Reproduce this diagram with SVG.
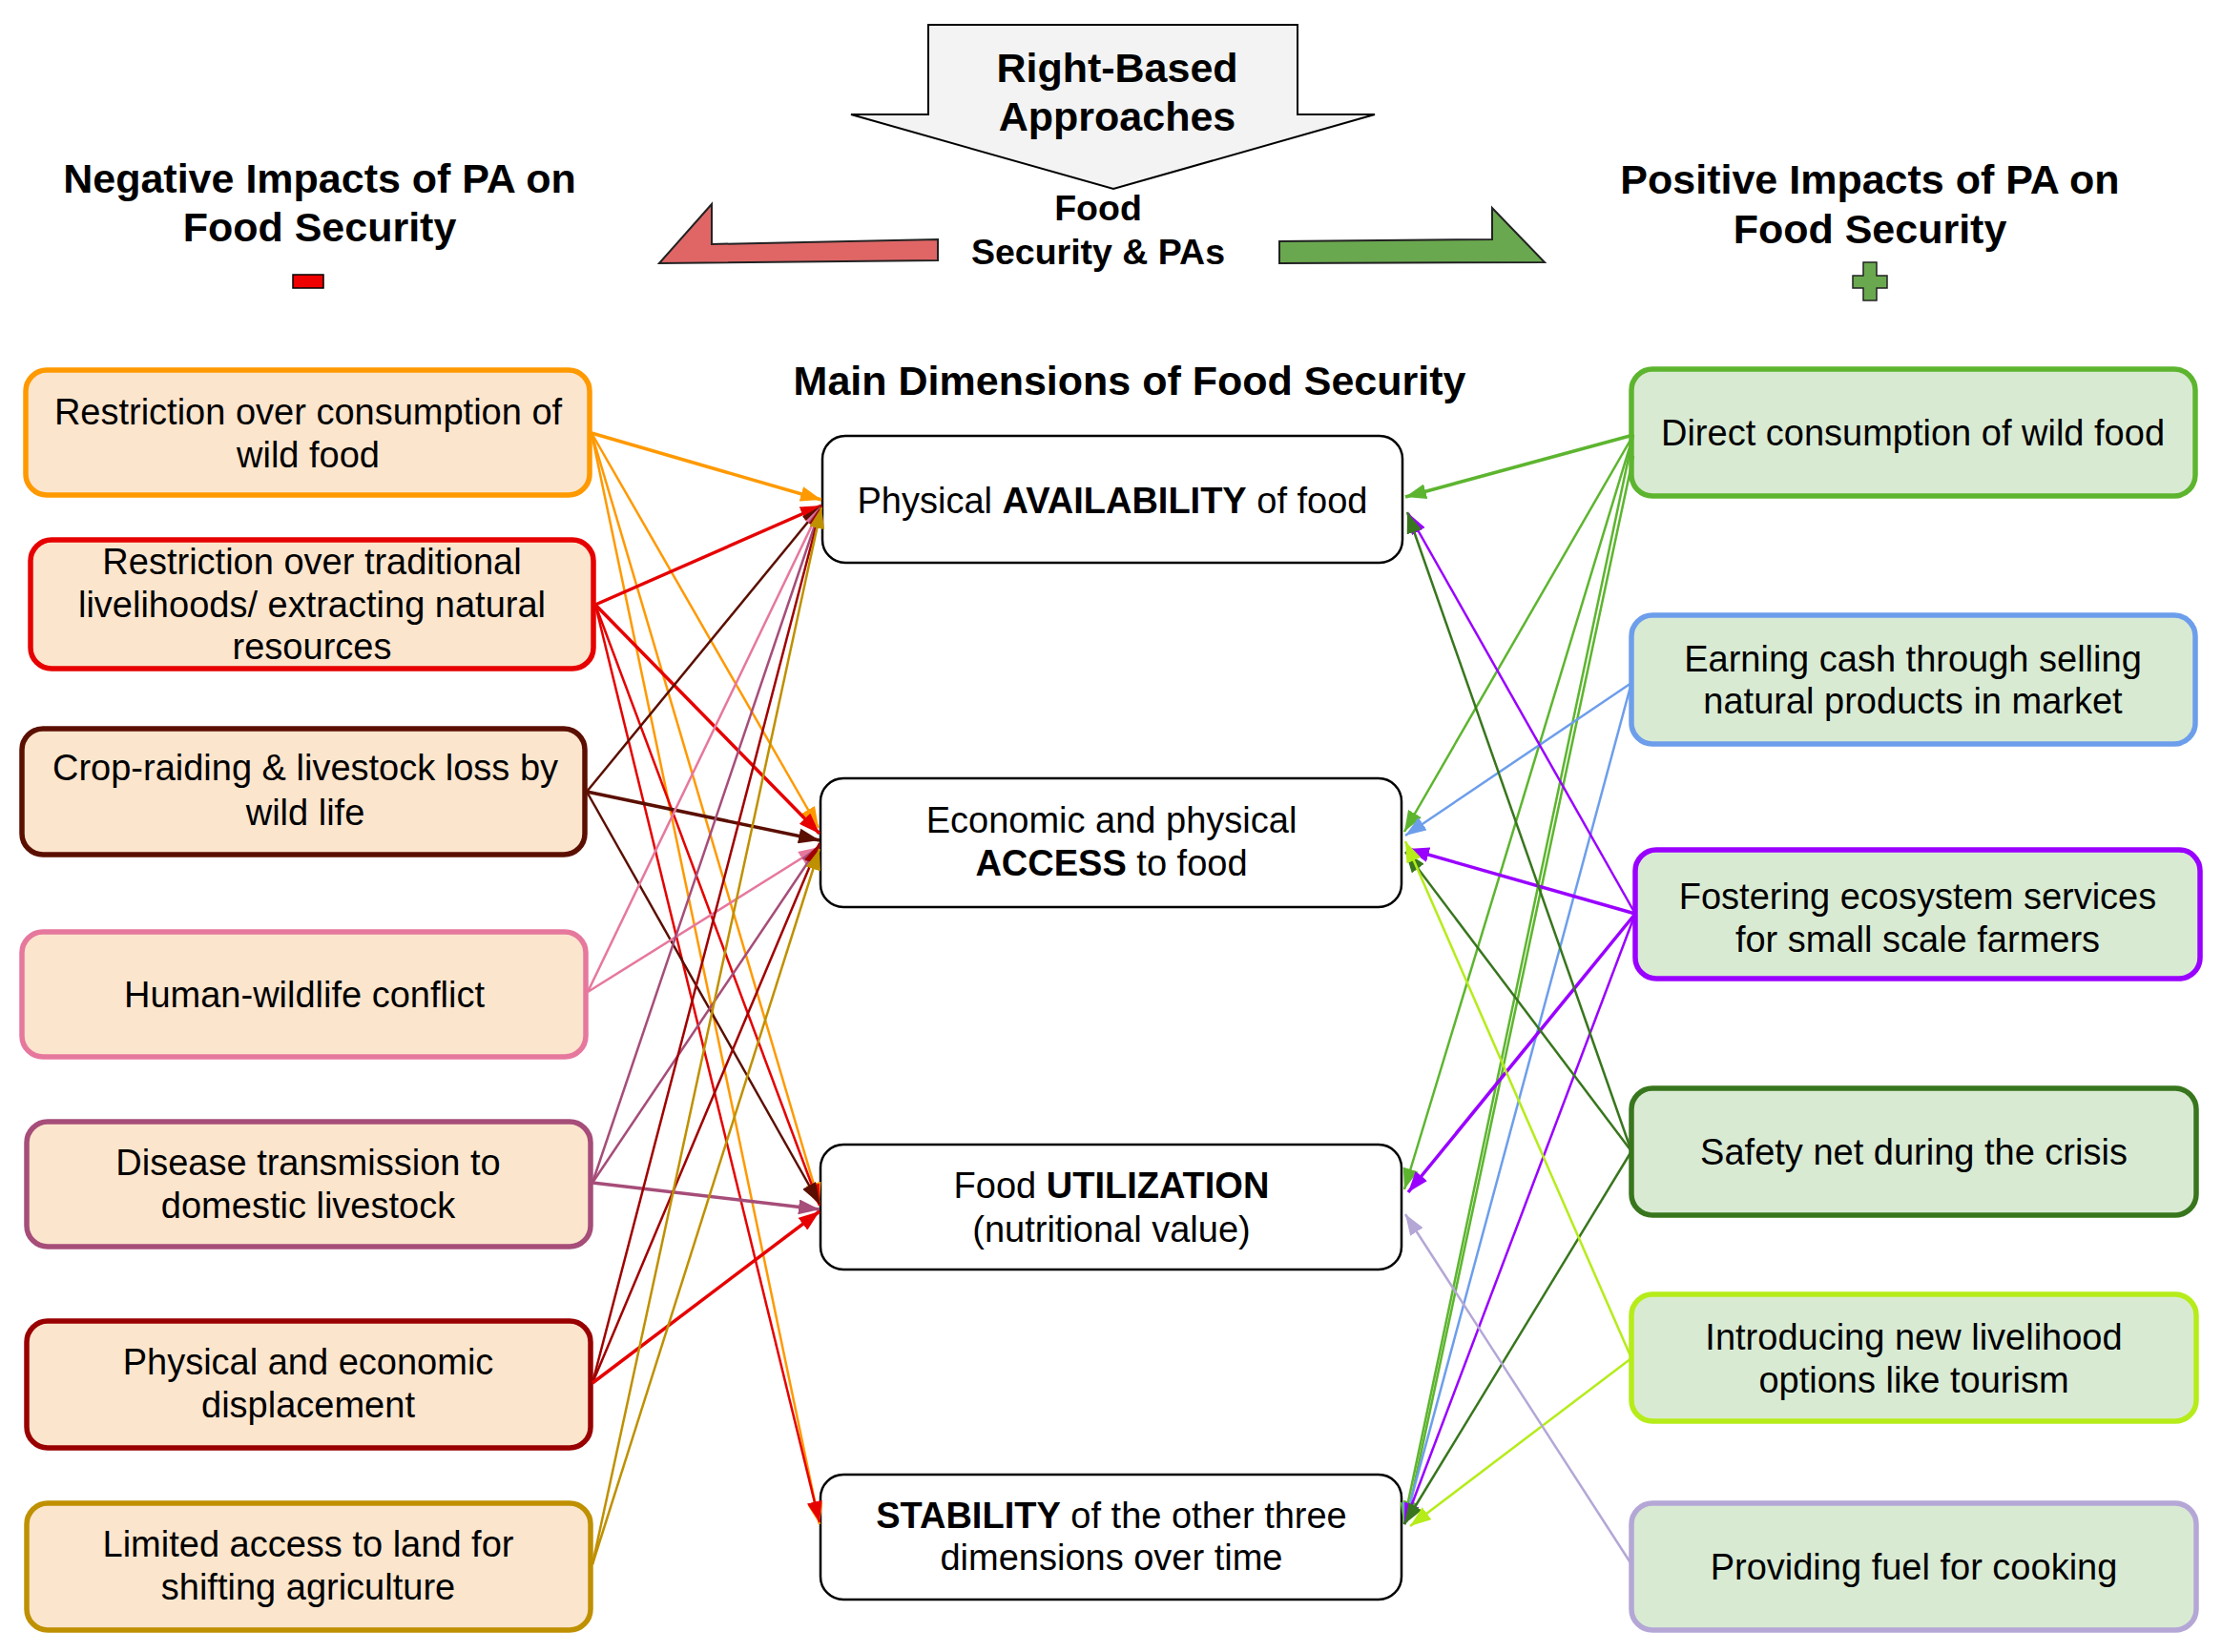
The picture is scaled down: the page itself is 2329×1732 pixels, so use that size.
<svg xmlns="http://www.w3.org/2000/svg" width="2329" height="1732" viewBox="0 0 2329 1732">
<style>
text{font-family:"Liberation Sans",Arial,sans-serif;fill:#000;}
.title{font-size:43px;font-weight:bold;text-anchor:middle;}
.sub{font-size:37.5px;font-weight:bold;text-anchor:middle;}
.bt{font-size:38px;text-anchor:middle;}
.b{font-weight:bold;}
.neg{fill:#fce5cd;stroke-width:5.5;}
.pos{fill:#d9ead3;stroke-width:5.5;}
.dim{fill:#fff;stroke:#000;stroke-width:2.5;}
line{fill:none;stroke-width:2.5;}
.w{stroke-width:3.5;}
.c-orange{stroke:#ff9900;marker-end:url(#m-orange);}
.c-red{stroke:#e60000;marker-end:url(#m-red);}
.c-dark{stroke:#5b0f00;marker-end:url(#m-dark);}
.c-pink{stroke:#e6789d;marker-end:url(#m-pink);}
.c-mauve{stroke:#a64d79;marker-end:url(#m-mauve);}
.c-dred{stroke:#a00000;marker-end:url(#m-dred);}
.c-gold{stroke:#bf9000;marker-end:url(#m-gold);}
.c-green{stroke:#5db52f;marker-end:url(#m-green);}
.c-blue{stroke:#6d9eeb;marker-end:url(#m-blue);}
.c-purple{stroke:#9900ff;marker-end:url(#m-purple);}
.c-dgreen{stroke:#38761d;marker-end:url(#m-dgreen);}
.c-lime{stroke:#b5ec1a;marker-end:url(#m-lime);}
.c-lav{stroke:#b4a7d6;marker-end:url(#m-lav);}
</style>
<defs>
<marker id="m-orange" viewBox="0 0 22 16" refX="22" refY="8" markerWidth="22" markerHeight="16" markerUnits="userSpaceOnUse" orient="auto"><path d="M0,0 L22,8 L0,16 z" fill="#ff9900"/></marker>
<marker id="m-red" viewBox="0 0 22 16" refX="22" refY="8" markerWidth="22" markerHeight="16" markerUnits="userSpaceOnUse" orient="auto"><path d="M0,0 L22,8 L0,16 z" fill="#e60000"/></marker>
<marker id="m-dark" viewBox="0 0 22 16" refX="22" refY="8" markerWidth="22" markerHeight="16" markerUnits="userSpaceOnUse" orient="auto"><path d="M0,0 L22,8 L0,16 z" fill="#5b0f00"/></marker>
<marker id="m-pink" viewBox="0 0 22 16" refX="22" refY="8" markerWidth="22" markerHeight="16" markerUnits="userSpaceOnUse" orient="auto"><path d="M0,0 L22,8 L0,16 z" fill="#e6789d"/></marker>
<marker id="m-mauve" viewBox="0 0 22 16" refX="22" refY="8" markerWidth="22" markerHeight="16" markerUnits="userSpaceOnUse" orient="auto"><path d="M0,0 L22,8 L0,16 z" fill="#a64d79"/></marker>
<marker id="m-dred" viewBox="0 0 22 16" refX="22" refY="8" markerWidth="22" markerHeight="16" markerUnits="userSpaceOnUse" orient="auto"><path d="M0,0 L22,8 L0,16 z" fill="#a00000"/></marker>
<marker id="m-gold" viewBox="0 0 22 16" refX="22" refY="8" markerWidth="22" markerHeight="16" markerUnits="userSpaceOnUse" orient="auto"><path d="M0,0 L22,8 L0,16 z" fill="#bf9000"/></marker>
<marker id="m-green" viewBox="0 0 22 16" refX="22" refY="8" markerWidth="22" markerHeight="16" markerUnits="userSpaceOnUse" orient="auto"><path d="M0,0 L22,8 L0,16 z" fill="#5db52f"/></marker>
<marker id="m-blue" viewBox="0 0 22 16" refX="22" refY="8" markerWidth="22" markerHeight="16" markerUnits="userSpaceOnUse" orient="auto"><path d="M0,0 L22,8 L0,16 z" fill="#6d9eeb"/></marker>
<marker id="m-purple" viewBox="0 0 22 16" refX="22" refY="8" markerWidth="22" markerHeight="16" markerUnits="userSpaceOnUse" orient="auto"><path d="M0,0 L22,8 L0,16 z" fill="#9900ff"/></marker>
<marker id="m-dgreen" viewBox="0 0 22 16" refX="22" refY="8" markerWidth="22" markerHeight="16" markerUnits="userSpaceOnUse" orient="auto"><path d="M0,0 L22,8 L0,16 z" fill="#38761d"/></marker>
<marker id="m-lime" viewBox="0 0 22 16" refX="22" refY="8" markerWidth="22" markerHeight="16" markerUnits="userSpaceOnUse" orient="auto"><path d="M0,0 L22,8 L0,16 z" fill="#b5ec1a"/></marker>
<marker id="m-lav" viewBox="0 0 22 16" refX="22" refY="8" markerWidth="22" markerHeight="16" markerUnits="userSpaceOnUse" orient="auto"><path d="M0,0 L22,8 L0,16 z" fill="#b4a7d6"/></marker>
</defs>
<rect width="2329" height="1732" fill="#fff"/>

<g id="header">
<polygon points="973,26 1360,26 1360,120 1441,120 1167,198 892,120 973,120" fill="#f3f3f3" stroke="#000" stroke-width="2"/>
<text class="title" x="1171" y="86">Right-Based</text>
<text class="title" x="1171" y="137">Approaches</text>
<polygon points="691,276 746,214 746,256 983,251 983,273" fill="#e06666" stroke="#222" stroke-width="2"/>
<polygon points="1341,253 1564,251 1564,218 1619,275 1341,276" fill="#6aa84f" stroke="#222" stroke-width="2"/>
<text class="sub" x="1151" y="231">Food</text>
<text class="sub" x="1151" y="277">Security &amp; PAs</text>
<text class="title" x="335" y="202">Negative Impacts of PA on</text>
<text class="title" x="335" y="253">Food Security</text>
<rect x="307" y="288" width="32" height="14" fill="#ee0000" stroke="#000" stroke-width="1.5"/>
<text class="title" x="1960" y="203">Positive Impacts of PA on</text>
<text class="title" x="1960" y="255">Food Security</text>
<polygon points="1953,275 1967,275 1967,289 1978,289 1978,302 1967,302 1967,315 1953,315 1953,302 1942,302 1942,289 1953,289" fill="#6aa84f" stroke="#222" stroke-width="1.5"/>
<text class="title" x="1184" y="414">Main Dimensions of Food Security</text>
</g>

<g id="neg1"><rect class="neg" x="27" y="388" width="591" height="131" rx="22" stroke="#ff9900"/><text class="bt" x="323" y="445">Restriction over consumption of</text><text class="bt" x="323" y="490">wild food</text></g>
<g id="neg2"><rect class="neg" x="32" y="566" width="590" height="135" rx="22" stroke="#e60000"/><text class="bt" x="327" y="602">Restriction over traditional</text><text class="bt" x="327" y="647">livelihoods/ extracting natural</text><text class="bt" x="327" y="691">resources</text></g>
<g id="neg3"><rect class="neg" x="23" y="764" width="590" height="132" rx="22" stroke="#5b0f00"/><text class="bt" x="320" y="818">Crop-raiding &amp; livestock loss by</text><text class="bt" x="320" y="865">wild life</text></g>
<g id="neg4"><rect class="neg" x="23" y="977" width="591" height="131" rx="22" stroke="#e6789d"/><text class="bt" x="319" y="1056">Human-wildlife conflict</text></g>
<g id="neg5"><rect class="neg" x="28" y="1176" width="591" height="131" rx="22" stroke="#a64d79"/><text class="bt" x="323" y="1232">Disease transmission to</text><text class="bt" x="323" y="1277">domestic livestock</text></g>
<g id="neg6"><rect class="neg" x="28" y="1385" width="591" height="133" rx="22" stroke="#990000"/><text class="bt" x="323" y="1441">Physical and economic</text><text class="bt" x="323" y="1486">displacement</text></g>
<g id="neg7"><rect class="neg" x="28" y="1576" width="591" height="133" rx="22" stroke="#bf9000"/><text class="bt" x="323" y="1632">Limited access to land for</text><text class="bt" x="323" y="1677">shifting agriculture</text></g>

<g id="availability"><rect class="dim" x="862" y="457" width="608" height="133" rx="24"/><text class="bt" x="1166" y="538">Physical <tspan class="b">AVAILABILITY</tspan> of food</text></g>
<g id="access"><rect class="dim" x="860" y="816" width="609" height="135" rx="24"/><text class="bt" x="1165" y="873">Economic and physical</text><text class="bt" x="1165" y="918"><tspan class="b">ACCESS</tspan> to food</text></g>
<g id="utilization"><rect class="dim" x="860" y="1200" width="609" height="131" rx="24"/><text class="bt" x="1165" y="1256">Food <tspan class="b">UTILIZATION</tspan></text><text class="bt" x="1165" y="1302">(nutritional value)</text></g>
<g id="stability"><rect class="dim" x="860" y="1546" width="609" height="131" rx="24"/><text class="bt" x="1165" y="1602"><tspan class="b">STABILITY</tspan> of the other three</text><text class="bt" x="1165" y="1646">dimensions over time</text></g>

<g id="pos1"><rect class="pos" x="1710" y="387" width="591" height="133" rx="22" stroke="#5db52f"/><text class="bt" x="2005" y="467">Direct consumption of wild food</text></g>
<g id="pos2"><rect class="pos" x="1710" y="645" width="591" height="135" rx="22" stroke="#6d9eeb"/><text class="bt" x="2005" y="704">Earning cash through selling</text><text class="bt" x="2005" y="748">natural products in market</text></g>
<g id="pos3"><rect class="pos" x="1714" y="891" width="592" height="135" rx="22" stroke="#9900ff"/><text class="bt" x="2010" y="953">Fostering ecosystem services</text><text class="bt" x="2010" y="998">for small scale farmers</text></g>
<g id="pos4"><rect class="pos" x="1710" y="1141" width="592" height="133" rx="22" stroke="#38761d"/><text class="bt" x="2006" y="1221">Safety net during the crisis</text></g>
<g id="pos5"><rect class="pos" x="1710" y="1357" width="592" height="133" rx="22" stroke="#b5ec1a"/><text class="bt" x="2006" y="1415">Introducing new livelihood</text><text class="bt" x="2006" y="1460">options like tourism</text></g>
<g id="pos6"><rect class="pos" x="1710" y="1576" width="592" height="133" rx="22" stroke="#b4a7d6"/><text class="bt" x="2006" y="1656">Providing fuel for cooking</text></g>

<g id="connectors">
<line class="c-orange w" x1="620" y1="454" x2="861" y2="524"/>
<line class="c-orange" x1="620" y1="454" x2="858" y2="868"/>
<line class="c-orange" x1="620" y1="454" x2="859" y2="1262"/>
<line class="c-orange" x1="620" y1="454" x2="859" y2="1598"/>
<line class="c-red w" x1="624" y1="634" x2="861" y2="530"/>
<line class="c-red w" x1="624" y1="634" x2="859" y2="874"/>
<line class="c-red" x1="624" y1="634" x2="859" y2="1264"/>
<line class="c-red" x1="624" y1="634" x2="859" y2="1596"/>
<line class="c-dark" x1="615" y1="830" x2="861" y2="530"/>
<line class="c-dark w" x1="615" y1="830" x2="859" y2="881"/>
<line class="c-dark" x1="615" y1="830" x2="859" y2="1262"/>
<line class="c-pink" x1="616" y1="1040" x2="861" y2="530"/>
<line class="c-pink" x1="616" y1="1040" x2="859" y2="888"/>
<line class="c-mauve" x1="621" y1="1240" x2="861" y2="530"/>
<line class="c-mauve" x1="621" y1="1240" x2="859" y2="886"/>
<line class="c-mauve w" x1="621" y1="1240" x2="859" y2="1268"/>
<line class="c-dred" x1="621" y1="1450" x2="861" y2="530"/>
<line class="c-dred" x1="621" y1="1450" x2="859" y2="884"/>
<line class="c-red w" x1="621" y1="1450" x2="859" y2="1270"/>
<line class="c-gold" x1="621" y1="1640" x2="861" y2="532"/>
<line class="c-gold" x1="621" y1="1640" x2="859" y2="890"/>

<line class="c-green w" x1="1712" y1="456" x2="1473" y2="521"/>
<line class="c-green" x1="1712" y1="456" x2="1472" y2="872"/>
<line class="c-green" x1="1712" y1="456" x2="1472" y2="1247"/>
<line class="c-green" x1="1712" y1="456" x2="1471" y2="1598"/>
<line class="c-green" x1="1712" y1="478" x2="1474" y2="1596"/>
<line class="c-blue" x1="1710" y1="716" x2="1473" y2="876"/>
<line class="c-blue" x1="1710" y1="716" x2="1472" y2="1598"/>
<line class="c-purple" x1="1714" y1="958" x2="1476" y2="538"/>
<line class="c-purple w" x1="1714" y1="958" x2="1476" y2="890"/>
<line class="c-purple w" x1="1714" y1="958" x2="1476" y2="1250"/>
<line class="c-purple" x1="1714" y1="958" x2="1472" y2="1598"/>
<line class="c-dgreen" x1="1710" y1="1207" x2="1475" y2="537"/>
<line class="c-dgreen" x1="1710" y1="1207" x2="1473" y2="893"/>
<line class="c-dgreen" x1="1710" y1="1207" x2="1472" y2="1598"/>
<line class="c-lime" x1="1710" y1="1424" x2="1473" y2="882"/>
<line class="c-lime" x1="1710" y1="1424" x2="1478" y2="1600"/>
<line class="c-lav" x1="1710" y1="1640" x2="1473" y2="1273"/>
</g>
</svg>
